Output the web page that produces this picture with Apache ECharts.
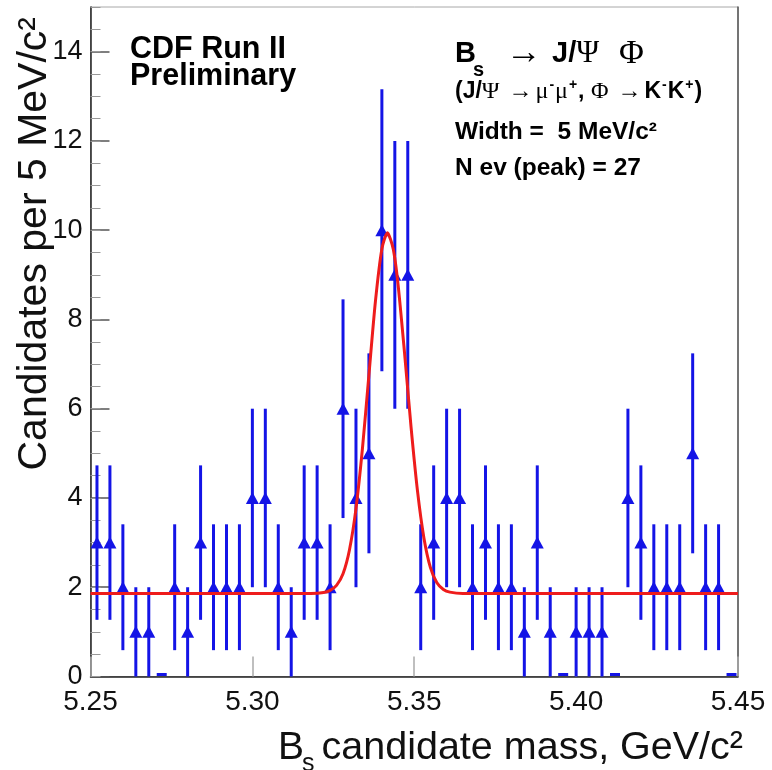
<!DOCTYPE html>
<html><head><meta charset="utf-8">
<script src="https://cdn.jsdelivr.net/npm/echarts@6/dist/echarts.min.js"></script>
<style>html,body{margin:0;padding:0;background:#fff}#c{width:772px;height:770px}</style>
</head><body><div id="c"></div>
<script>
// Bin centres (GeV/c^2)
const massCenters = [5.252,5.256,5.260,5.264,5.268,5.272,5.276,5.280,5.284,5.288,
  5.292,5.296,5.300,5.304,5.308,5.312,5.316,5.320,5.324,5.328,
  5.332,5.336,5.340,5.344,5.348,5.352,5.356,5.360,5.364,5.368,
  5.372,5.376,5.380,5.384,5.388,5.392,5.396,5.400,5.404,5.408,
  5.412,5.416,5.420,5.424,5.428,5.432,5.436,5.440,5.444,5.448];
// Candidates per bin
const counts = [3,3,2,1,1,0,2,1,3,2,
  2,2,4,4,2,1,3,3,2,6,
  4,5,10,9,9,2,3,4,4,2,
  3,2,2,1,3,1,0,1,1,1,
  0,4,3,2,2,2,5,2,2,0];
// Error bar half-lengths
const errors = [1.73,1.73,1.41,1,1,0,1.41,1,1.73,1.41,
  1.41,1.41,2,2,1.41,1,1.73,1.73,1.41,2.45,
  2,2.24,3.16,3,3,1.41,1.73,2,2,1.41,
  1.73,1.41,1.41,1,1.73,1,0,1,1,1,
  0,2,1.73,1.41,1.41,1.41,2.24,1.41,1.41,0];
// Fit curve
const fitMass = [5.250,5.318,5.322,5.324,5.326,5.328,5.330,5.332,5.334,5.336,5.338,5.340,5.3417,5.3435,5.345,5.347,5.349,5.351,5.353,5.355,5.357,5.359,5.361,5.365,5.450];
const fitCounts = [1.86,1.86,1.88,1.93,2.04,2.30,2.84,3.76,5.11,6.76,8.40,9.58,9.94,9.58,8.78,7.25,5.60,4.16,3.10,2.44,2.10,1.95,1.89,1.86,1.86];
// Tick labels
const xTickLabels = ['5.25','5.30','5.35','5.40','5.45'];
const yTickLabels = ['0','2','4','6','8','10','12','14'];

const BLUE = '#1414e6';
const RED = '#ee1c1c';
const SANS = 'Liberation Sans, Arial, Helvetica, sans-serif';
const SERIF = 'Liberation Serif, Times New Roman, serif';

const pts = massCenters.map((m, i) => [m, counts[i], errors[i]]);
const markerPts = massCenters.map((m, i) => [m, counts[i]]).filter(p => p[1] > 0);
const fitPts = fitMass.map((m, i) => [m, fitCounts[i]]);

const chart = echarts.init(document.getElementById('c'), null, {renderer: 'canvas'});
chart.setOption({
  animation: false,
  backgroundColor: '#fff',
  grid: {left: 90.5, right: 34, top: 7, bottom: 93.5, show: true, borderColor: '#a8a8a8', borderWidth: 1, backgroundColor: 'transparent'},
  xAxis: {
    type: 'value', min: 5.25, max: 5.45, interval: 0.05,
    axisLine: {show: true, onZero: false, lineStyle: {color: '#222', width: 1.5}},
    axisTick: {show: true, inside: true, length: 20, lineStyle: {color: '#aaa', width: 1.5}},
    splitLine: {show: false},
    axisLabel: {
      margin: 12, fontFamily: SANS, fontSize: 28, color: '#111',
      formatter: v => xTickLabels[Math.round((v - 5.25) / 0.05)] || ''
    }
  },
  yAxis: [{
    type: 'value', min: 0, max: 15, interval: 2,
    axisLine: {show: true, onZero: false, lineStyle: {color: '#222', width: 1.5}},
    axisTick: {show: true, inside: true, length: 19, lineStyle: {color: '#555', width: 1.5}},
    splitLine: {show: false},
    axisLabel: {
      margin: 8, fontFamily: SANS, fontSize: 27, color: '#111', showMaxLabel: false,
      formatter: v => (Math.abs(v / 2 - Math.round(v / 2)) < 1e-6 ? (yTickLabels[Math.round(v / 2)] || '') : '')
    }
  }, {
    type: 'value', min: 0, max: 15, interval: 0.5, position: 'left',
    axisLine: {show: false}, axisLabel: {show: false}, splitLine: {show: false},
    axisTick: {show: true, inside: true, length: 10, lineStyle: {color: '#999', width: 1}}
  }, {
    type: 'value', min: 0, max: 15, position: 'right',
    axisLine: {show: true, lineStyle: {color: '#555', width: 1.5}},
    axisLabel: {show: false}, axisTick: {show: false}, splitLine: {show: false}
  }],
  series: [{
    type: 'custom', yAxisIndex: 0, z: 3,
    data: pts,
    renderItem: (params, api) => {
      const x = api.value(0), y = api.value(1), e = api.value(2);
      if (y === 0) {
        const p = api.coord([x, 0]);
        return {type: 'line', shape: {x1: p[0] - 5, y1: p[1] - 2, x2: p[0] + 5, y2: p[1] - 2}, style: {stroke: BLUE, lineWidth: 3}};
      }
      const t = api.coord([x, y + e]);
      const b = api.coord([x, Math.max(0, y - e)]);
      return {type: 'line', shape: {x1: t[0], y1: t[1], x2: b[0], y2: b[1]}, style: {stroke: BLUE, lineWidth: 3}};
    }
  }, {
    type: 'scatter', yAxisIndex: 0, z: 4,
    data: markerPts, symbol: 'triangle', symbolSize: [13, 12],
    itemStyle: {color: BLUE, opacity: 1}
  }, {
    type: 'line', yAxisIndex: 0, z: 5,
    data: fitPts, smooth: 0.25, showSymbol: false, symbol: 'none',
    lineStyle: {color: RED, width: 3}
  }],
  graphic: [
    {type: 'text', x: 35, y: 17, rotation: Math.PI / 2,
      style: {text: 'Candidates per 5 MeV/c²', fontFamily: SANS, fontSize: 41, fill: '#111', align: 'right', verticalAlign: 'middle'}},
    {type: 'text', x: 278, y: 748,
      style: {text: 'B', fontFamily: SANS, fontSize: 39, fill: '#111', align: 'left', verticalAlign: 'middle'}},
    {type: 'text', x: 302, y: 764,
      style: {text: 's', fontFamily: SANS, fontSize: 25, fill: '#111', align: 'left', verticalAlign: 'middle'}},
    {type: 'text', x: 743, y: 748,
      style: {text: ' candidate mass, GeV/c²', fontFamily: SANS, fontSize: 39.5, fill: '#111', align: 'right', verticalAlign: 'middle'}},
    {type: 'text', x: 130, y: 50,
      style: {text: 'CDF Run II', fontFamily: SANS, fontWeight: 'bold', fontSize: 30.5, fill: '#000', align: 'left', verticalAlign: 'middle'}},
    {type: 'text', x: 130, y: 77,
      style: {text: 'Preliminary', fontFamily: SANS, fontWeight: 'bold', fontSize: 30.5, fill: '#000', align: 'left', verticalAlign: 'middle'}},
    {type: 'text', x: 455, y: 54,
      style: {text: 'B', fontFamily: SANS, fontWeight: 'bold', fontSize: 29, fill: '#000', align: 'left', verticalAlign: 'middle'}},
    {type: 'text', x: 473, y: 70,
      style: {text: 's', fontFamily: SANS, fontWeight: 'bold', fontSize: 20, fill: '#000', align: 'left', verticalAlign: 'middle'}},
    {type: 'text', x: 506, y: 54,
      style: {text: '→', fontFamily: SERIF, fontSize: 36, fill: '#000', align: 'left', verticalAlign: 'middle'}},
    {type: 'text', x: 552, y: 54,
      style: {text: '{b|J/}{g|Ψ}', fill: '#000', align: 'left', verticalAlign: 'middle',
        rich: {b: {fontFamily: SANS, fontWeight: 'bold', fontSize: 29, fill: '#000'}, g: {fontFamily: SERIF, fontSize: 31, fill: '#000'}}}},
    {type: 'text', x: 619, y: 54,
      style: {text: 'Φ', fontFamily: SERIF, fontSize: 34, fill: '#000', align: 'left', verticalAlign: 'middle'}},
    {type: 'text', x: 455, y: 92,
      style: {
        text: '{p|(J/}{g|Ψ}{a|→}{g|μ}{u|-}{g|μ}{u|+}{p|, }{g|Φ}{a|→}{p|K}{u|-}{p|K}{u|+}{p|)}',
        align: 'left', verticalAlign: 'middle',
        rich: {
          p: {fontFamily: SANS, fontWeight: 'bold', fontSize: 23, lineHeight: 28, verticalAlign: 'middle', fill: '#000'},
          g: {fontFamily: SERIF, fontSize: 24, lineHeight: 28, verticalAlign: 'middle', fill: '#000'},
          a: {fontFamily: SERIF, fontSize: 24, lineHeight: 28, verticalAlign: 'middle', fill: '#000', padding: [0, 3, 0, 9]},
          u: {fontFamily: SANS, fontWeight: 'bold', fontSize: 14, lineHeight: 14, verticalAlign: 'top', fill: '#000', padding: [0, 1, 0, 1]}
        }
      }},
    {type: 'text', x: 455, y: 132,
      style: {text: 'Width =  5 MeV/c²', fontFamily: SANS, fontWeight: 'bold', fontSize: 24.5, fill: '#000', align: 'left', verticalAlign: 'middle'}},
    {type: 'text', x: 455, y: 168,
      style: {text: 'N ev (peak) = 27', fontFamily: SANS, fontWeight: 'bold', fontSize: 24.5, fill: '#000', align: 'left', verticalAlign: 'middle'}}
  ]
});
</script>
</body></html>
